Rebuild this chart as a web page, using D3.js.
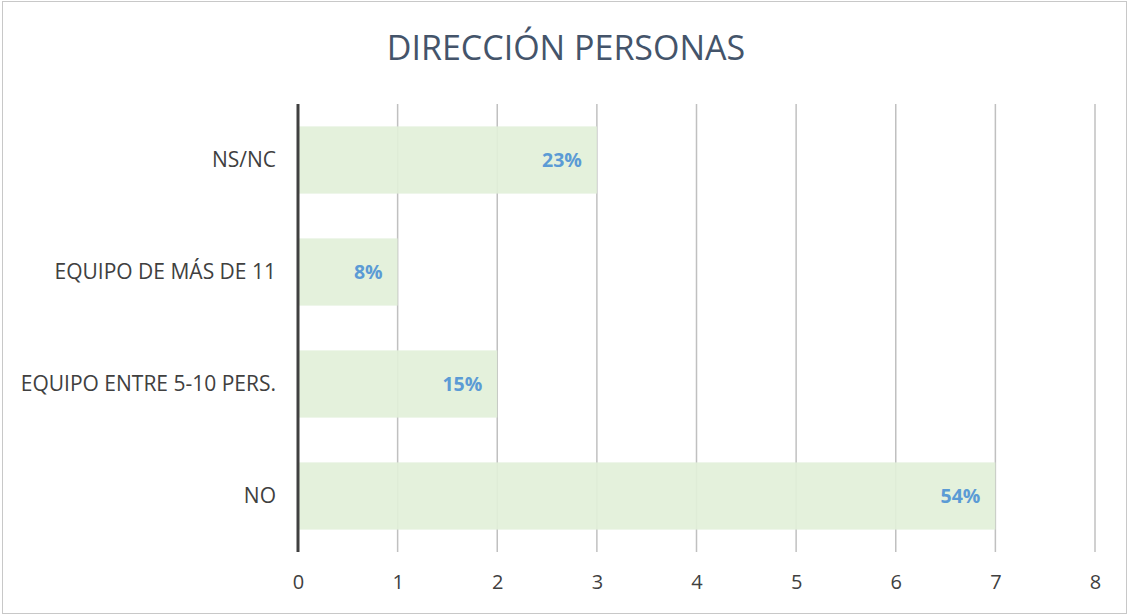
<!DOCTYPE html>
<html>
<head>
<meta charset="utf-8">
<script src="https://cdn.jsdelivr.net/npm/d3@7"></script>
<style>
  body { margin: 0; background: #fff; }
  text { font-family: "Open Sans", "Noto Sans", sans-serif; }
</style>
</head>
<body>
<svg width="1129" height="615"></svg>
<script>
// data, bottom to top as drawn
const categories = ['NO', 'EQUIPO ENTRE 5-10 PERS.', 'EQUIPO DE MÁS DE 11', 'NS/NC'];
const values = [7, 2, 1, 3];
const labels = ['54%', '15%', '8%', '23%'];
const ticks = [0, 1, 2, 3, 4, 5, 6, 7, 8];

const W = 1129, H = 615;
const m = {left: 298, right: 34, top: 104, bottom: 63};

const svg = d3.select('svg');

svg.append('rect')
    .attr('x', 2.5).attr('y', 1.5)
    .attr('width', W - 5).attr('height', H - 3)
    .attr('fill', '#fff')
    .attr('stroke', '#c8c8c8');

svg.append('text')
    .attr('x', 566).attr('y', 60)
    .attr('text-anchor', 'middle')
    .attr('font-size', 34)
    .attr('fill', '#44546a')
    .text('DIRECCIÓN PERSONAS');

let x = d3.scaleLinear().domain([0, 8]).range([m.left, W - m.right]);
let y = d3.scaleBand().domain(categories.slice().reverse())
    .range([m.top, H - m.bottom]).paddingInner(0.4).paddingOuter(0.2);

// gridlines
svg.append('g').selectAll('line').data(ticks.slice(1)).enter()
  .append('line')
    .attr('x1', d => x(d)).attr('x2', d => x(d))
    .attr('y1', m.top).attr('y2', H - m.bottom)
    .attr('stroke', '#c0c0c0')
    .attr('stroke-width', 1.5);

let data = categories.map((c, i) => ({cat: c, v: values[i], lab: labels[i]}));

svg.append('g').selectAll('rect').data(data).enter()
  .append('rect')
    .attr('x', x(0))
    .attr('y', d => y(d.cat))
    .attr('width', d => x(d.v) - x(0))
    .attr('height', y.bandwidth())
    .attr('fill', '#e2f0d9')
    .attr('fill-opacity', 0.92);

svg.append('g').selectAll('text').data(data).enter()
  .append('text')
    .attr('x', d => x(d.v) - 15)
    .attr('y', d => y(d.cat) + y.bandwidth() / 2)
    .attr('dy', '0.35em')
    .attr('text-anchor', 'end')
    .attr('font-size', 19.5)
    .attr('font-weight', 'bold')
    .attr('fill', '#5b9bd5')
    .text(d => d.lab);

// category axis
let yAxis = svg.append('g')
    .attr('transform', `translate(${m.left},0)`)
    .call(d3.axisLeft(y).tickSize(0).tickPadding(22));
yAxis.select('.domain').remove();
yAxis.selectAll('text')
    .attr('font-size', 21)
    .attr('fill', '#404040')
    .style('font-family', '"Open Sans", sans-serif');

svg.append('line')
    .attr('x1', x(0)).attr('x2', x(0))
    .attr('y1', m.top).attr('y2', H - m.bottom)
    .attr('stroke', '#404040')
    .attr('stroke-width', 3);

// value axis
let xAxis = svg.append('g')
    .attr('transform', `translate(0,${H - m.bottom})`)
    .call(d3.axisBottom(x).tickValues(ticks).tickSize(0).tickPadding(23));
xAxis.select('.domain').remove();
xAxis.selectAll('text')
    .attr('font-size', 20)
    .attr('fill', '#404040')
    .style('font-family', '"Open Sans", sans-serif');
</script>
</body>
</html>
